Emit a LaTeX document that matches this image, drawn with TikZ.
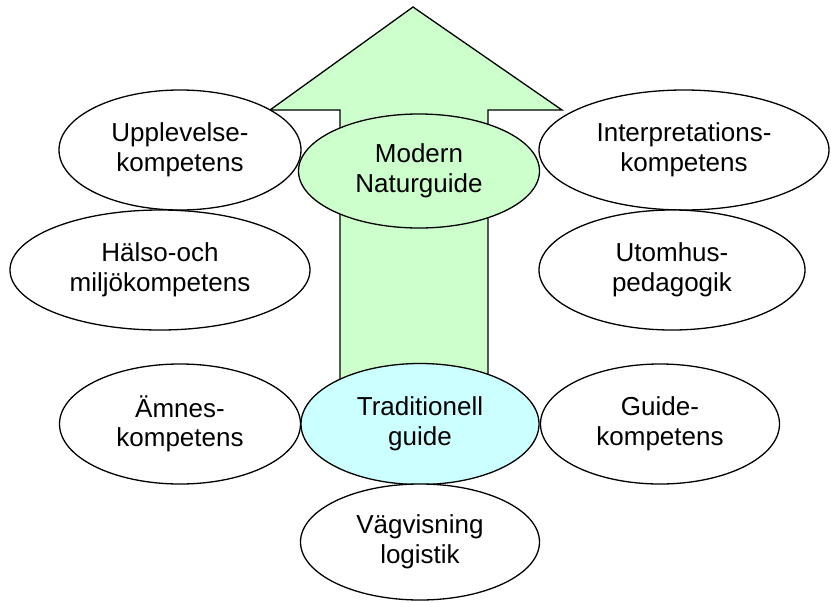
\documentclass[tikz,border=0pt]{standalone}
\usepackage{fontspec}
\setmainfont{Liberation Sans}
\usetikzlibrary{shapes.geometric}
\definecolor{arrowgreen}{HTML}{CCFFCC}
\definecolor{modgreen}{HTML}{CCFFCC}
\definecolor{tradcyan}{HTML}{CCFFFF}
\tikzset{
  ell/.style={ellipse, draw=black, line width=1.3pt, fill=white, inner sep=0pt,
    align=center, font=\fontsize{26}{29.5}\selectfont},
  bigarrow/.style={draw=black, line width=1.3pt, fill=arrowgreen, line join=miter}
}
\begin{document}
\begin{tikzpicture}[x=1pt,y=-1pt]
\useasboundingbox (0,0) rectangle (831,603);
% big arrow
\draw[bigarrow] (413,7) -- (562,110) -- (488,110) -- (488,400) -- (340,400) -- (340,110) -- (270,110) -- cycle;
% ellipses
\node[ell, minimum width=242pt, minimum height=120pt] (upp) at (180,150) {Upplevelse-\\kompetens};
\node[ell, minimum width=290pt, minimum height=120pt] (int) at (684,150) {Interpretations-\\kompetens};
\node[ell, minimum width=300pt, minimum height=120pt] (hal) at (160,270) {Hälso-och\\miljökompetens};
\node[ell, minimum width=266pt, minimum height=120pt] (uto) at (672,270) {Utomhus-\\pedagogik};
\node[ell, fill=modgreen, minimum width=241pt, minimum height=114pt] (mod) at (419,171) {Modern\\Naturguide};
\node[ell, minimum width=241pt, minimum height=120pt] (amn) at (180,424) {Ämnes-\\kompetens};
\node[ell, minimum width=239pt, minimum height=120pt] (gui) at (660,424) {Guide-\\kompetens};
\node[ell, fill=tradcyan, minimum width=238pt, minimum height=121pt] (tra) at (420,424) {Traditionell\\guide};
\node[ell, minimum width=239pt, minimum height=116pt] (vag) at (420,542) {Vägvisning\\logistik};
\end{tikzpicture}
\end{document}
